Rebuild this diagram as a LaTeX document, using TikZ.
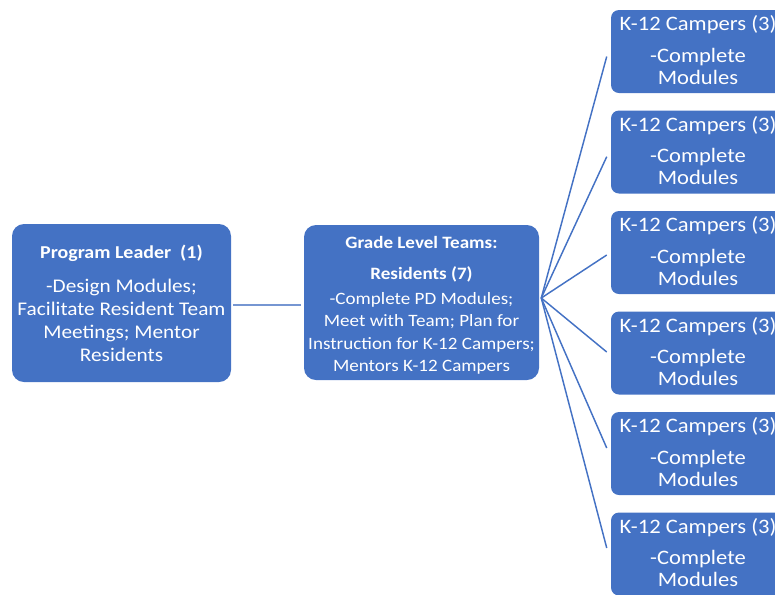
\documentclass[tikz,border=0pt]{standalone}
\usepackage{fontspec}
\setmainfont{Carlito}[FakeStretch=1.1]
\usetikzlibrary{calc}
\definecolor{boxblue}{HTML}{4472C4}
\definecolor{palelink}{HTML}{7696D2}
\tikzset{
  box/.style={fill=boxblue, draw=none, text=white, align=center, inner sep=0pt},
  leaderbox/.style={box, minimum width=164.25pt, minimum height=118.5pt, rounded corners=9pt,
    font=\fontsize{14.5}{17.25}\selectfont},
  midbox/.style={box, minimum width=176.25pt, minimum height=116.25pt, rounded corners=9pt,
    font=\fontsize{13}{16.8}\selectfont},
  campbox/.style={box, minimum width=130.5pt, minimum height=62.25pt, rounded corners=6pt,
    font=\fontsize{15.4}{16.5}\selectfont},
  fanline/.style={draw=boxblue, line width=1.1pt},
  leadline/.style={draw=palelink, line width=1.5pt}
}
\begin{document}
\begin{tikzpicture}[x=0.75pt,y=-0.75pt]
\useasboundingbox (0,0) rectangle (775,594);
\clip (0,0) rectangle (775,594);
\node[leaderbox] (lead) at (121.5,303)
  {{\fontsize{13.6}{17.25}\selectfont\bfseries Program Leader~ (1)}\\[8.25pt]
   -Design Modules;\\Facilitate Resident Team\\Meetings; Mentor\\Residents};
\node[midbox] (mid) at (421.5,302.5)
  {\rule{0pt}{13.5pt}\textbf{Grade Level Teams:}\\[6.2pt]\textbf{Residents (7)}\\[1.9pt]
   -Complete PD Modules;\\Meet with Team; Plan for\\Instruction for K-12 Campers;\\Mentors K-12 Campers};
\foreach \i/\cy in {1/51.5,2/152,3/252.5,4/353,5/453.5,6/554}{
  \node[campbox] (k\i) at (698,\cy) {K-12 Campers (3)\\[7pt]-Complete\\Modules\rule[-2.5pt]{0pt}{1pt}};
}
\coordinate (fan) at ($(mid.east)+(2,-4.5)$);
\draw[leadline] ($(lead.east)+(2,2)$) -- ($(mid.west)+(-3,2.5)$);
\foreach \i/\dy in {1/5,2/4.7,3/2.5,4/-1,5/-5.5,6/-6}{
  \draw[fanline] (fan) -- ($(k\i.west)+(-4,\dy)$);
}
\end{tikzpicture}
\end{document}
